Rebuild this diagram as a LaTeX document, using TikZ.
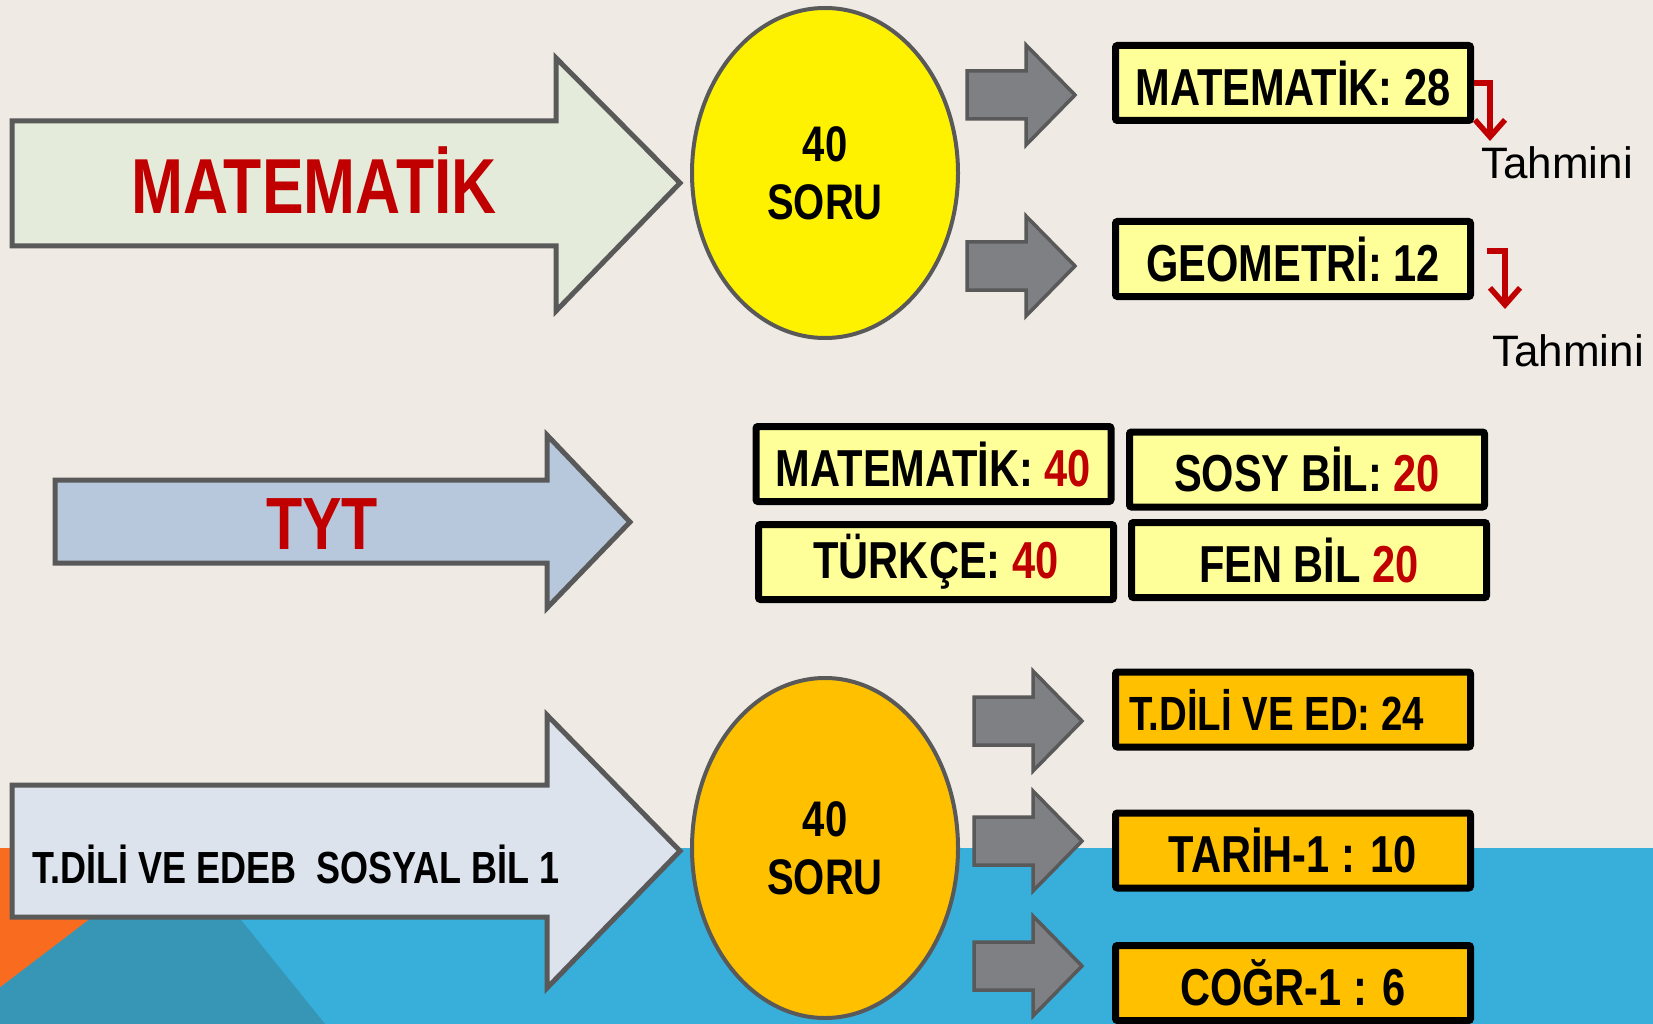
\documentclass[tikz,border=0pt]{standalone}
\usepackage{fontspec}
\setmainfont{Liberation Sans}[FakeStretch=0.8]
\newfontfamily\plainfont{Liberation Sans}
\usetikzlibrary{shapes.geometric,arrows.meta,calc}
\definecolor{bg}{HTML}{EFEBE4}
\definecolor{skyb}{HTML}{38AEDB}
\definecolor{tealb}{HTML}{3795B6}
\definecolor{orng}{HTML}{F96C1F}
\definecolor{darkred}{HTML}{C00000}
\definecolor{edgegray}{HTML}{595959}
\definecolor{garrowfill}{HTML}{7F8084}
\definecolor{lightyel}{HTML}{FFFF99}
\definecolor{gold}{HTML}{FFC000}
\definecolor{arrowA}{HTML}{E5EBDA}
\definecolor{arrowB}{HTML}{B8C8DC}
\definecolor{arrowC}{HTML}{DCE3ED}
\tikzset{
  bigarrow/.style={draw=edgegray,line width=5pt,line join=miter},
  blockarrow/.style={draw=edgegray,fill=garrowfill,line width=3.5pt,line join=miter},
  grayarr/.pic={\draw[blockarrow] (0,-24) -- (59,-24) -- (59,-50) -- (108,0) -- (59,50) -- (59,24) -- (0,24) -- cycle;},
  numbox/.style={draw=black,line width=7pt,rounded corners=2pt,fill=lightyel,
    minimum width=355pt,minimum height=75pt,inner sep=0pt,
    font=\bfseries\fontsize{52}{60}\selectfont},
  goldbox/.style={numbox,fill=gold},
  oval/.style={ellipse,draw=edgegray,line width=4pt,minimum width=266pt,
    align=center,inner sep=0pt,font=\bfseries\fontsize{50}{58}\selectfont},
  bigtitle/.style={text=darkred,inner sep=0pt,font=\bfseries\fontsize{#1}{#1}\selectfont},
  guess/.style={inner sep=0pt,font=\plainfont\fontsize{44}{50}\selectfont},
  redarr/.style={draw=darkred,line width=5.5pt,-{Straight Barb[length=17pt,width=30pt]}}
}
\begin{document}
\begin{tikzpicture}[x=1pt,y=-1pt]
\path[use as bounding box,fill=bg] (0,0) rectangle (1653,1024);
\clip (0,0) rectangle (1653,1024);
% background shapes
\fill[skyb] (0,848) rectangle (1653,1024);
\fill[orng] (0,848) -- (183,848) -- (0,990) -- cycle;
\fill[tealb] (183,848) -- (325,1024) -- (-48,1024) -- cycle;

% big arrows
\draw[bigarrow,fill=arrowA] (12,121) -- (556,121) -- (556,58) -- (680,183) -- (556,311) -- (556,246) -- (12,246) -- cycle;
\draw[bigarrow,fill=arrowB] (55,480) -- (547,480) -- (547,435) -- (630,522) -- (547,608) -- (547,563) -- (55,563) -- cycle;
\draw[bigarrow,fill=arrowC] (12,785) -- (547,785) -- (547,715) -- (680,851) -- (547,988) -- (547,917) -- (12,917) -- cycle;

\node[bigtitle=78] (mat) at (314,180) {MATEMATİK};
\node[bigtitle=74] (tyt) at (322,524) {TYT};
\node[inner sep=0pt,font=\bfseries\fontsize{45}{50}\selectfont] (tdl) at (296,864) {T.DİLİ VE EDEB~~SOSYAL BİL 1};

% ovals
\node[oval,fill=yellow,minimum height=330pt] (o1) at (825,173) {40\\SORU};
\node[oval,fill=gold,minimum height=340pt] (o2) at (825,848) {40\\SORU};

% gray block arrows
\pic at (967,95) {grayarr};
\pic at (967,266) {grayarr};
\pic at (974,721) {grayarr};
\pic at (974,841) {grayarr};
\pic at (974,966) {grayarr};

% top boxes
\node[numbox] (m28) at (1293,83) {MATEMATİK: 28};
\node[numbox] (g12) at (1293,259) {GEOMETRİ: 12};

\node[guess] (t1) at (1557,163) {Tahmini};
\node[guess] (t2) at (1568,351) {Tahmini};
\coordinate (ta1) at (1490,141);
\coordinate (ra2) at (1487,251);
\coordinate (ta2) at (1505,309);
\draw[redarr] (m28.east) -| (ta1);
\draw[redarr] (ra2) -| (ta2);

% TYT boxes
\node[numbox] (tm) at (933.5,464) {MATEMATİK: \textcolor{darkred}{40}};
\node[numbox] (ts) at (1307,469.5) {SOSY BİL: \textcolor{darkred}{20}};
\node[numbox] (tt) at (936,562) {TÜRKÇE: \textcolor{darkred}{40}};
\node[numbox] (tf) at (1309,560) {FEN BİL \textcolor{darkred}{20}};

% bottom boxes
\node[goldbox,text width=327pt,inner xsep=14pt,align=flush left,font=\bfseries\fontsize{48}{56}\selectfont] (b1) at (1293,709.5) {T.DİLİ VE ED: 24};
\node[goldbox] (b2) at (1293,850.5) {TARİH-1 : 10};
\node[goldbox] (b3) at (1293,983) {COĞR-1 : 6};
\end{tikzpicture}
\end{document}
